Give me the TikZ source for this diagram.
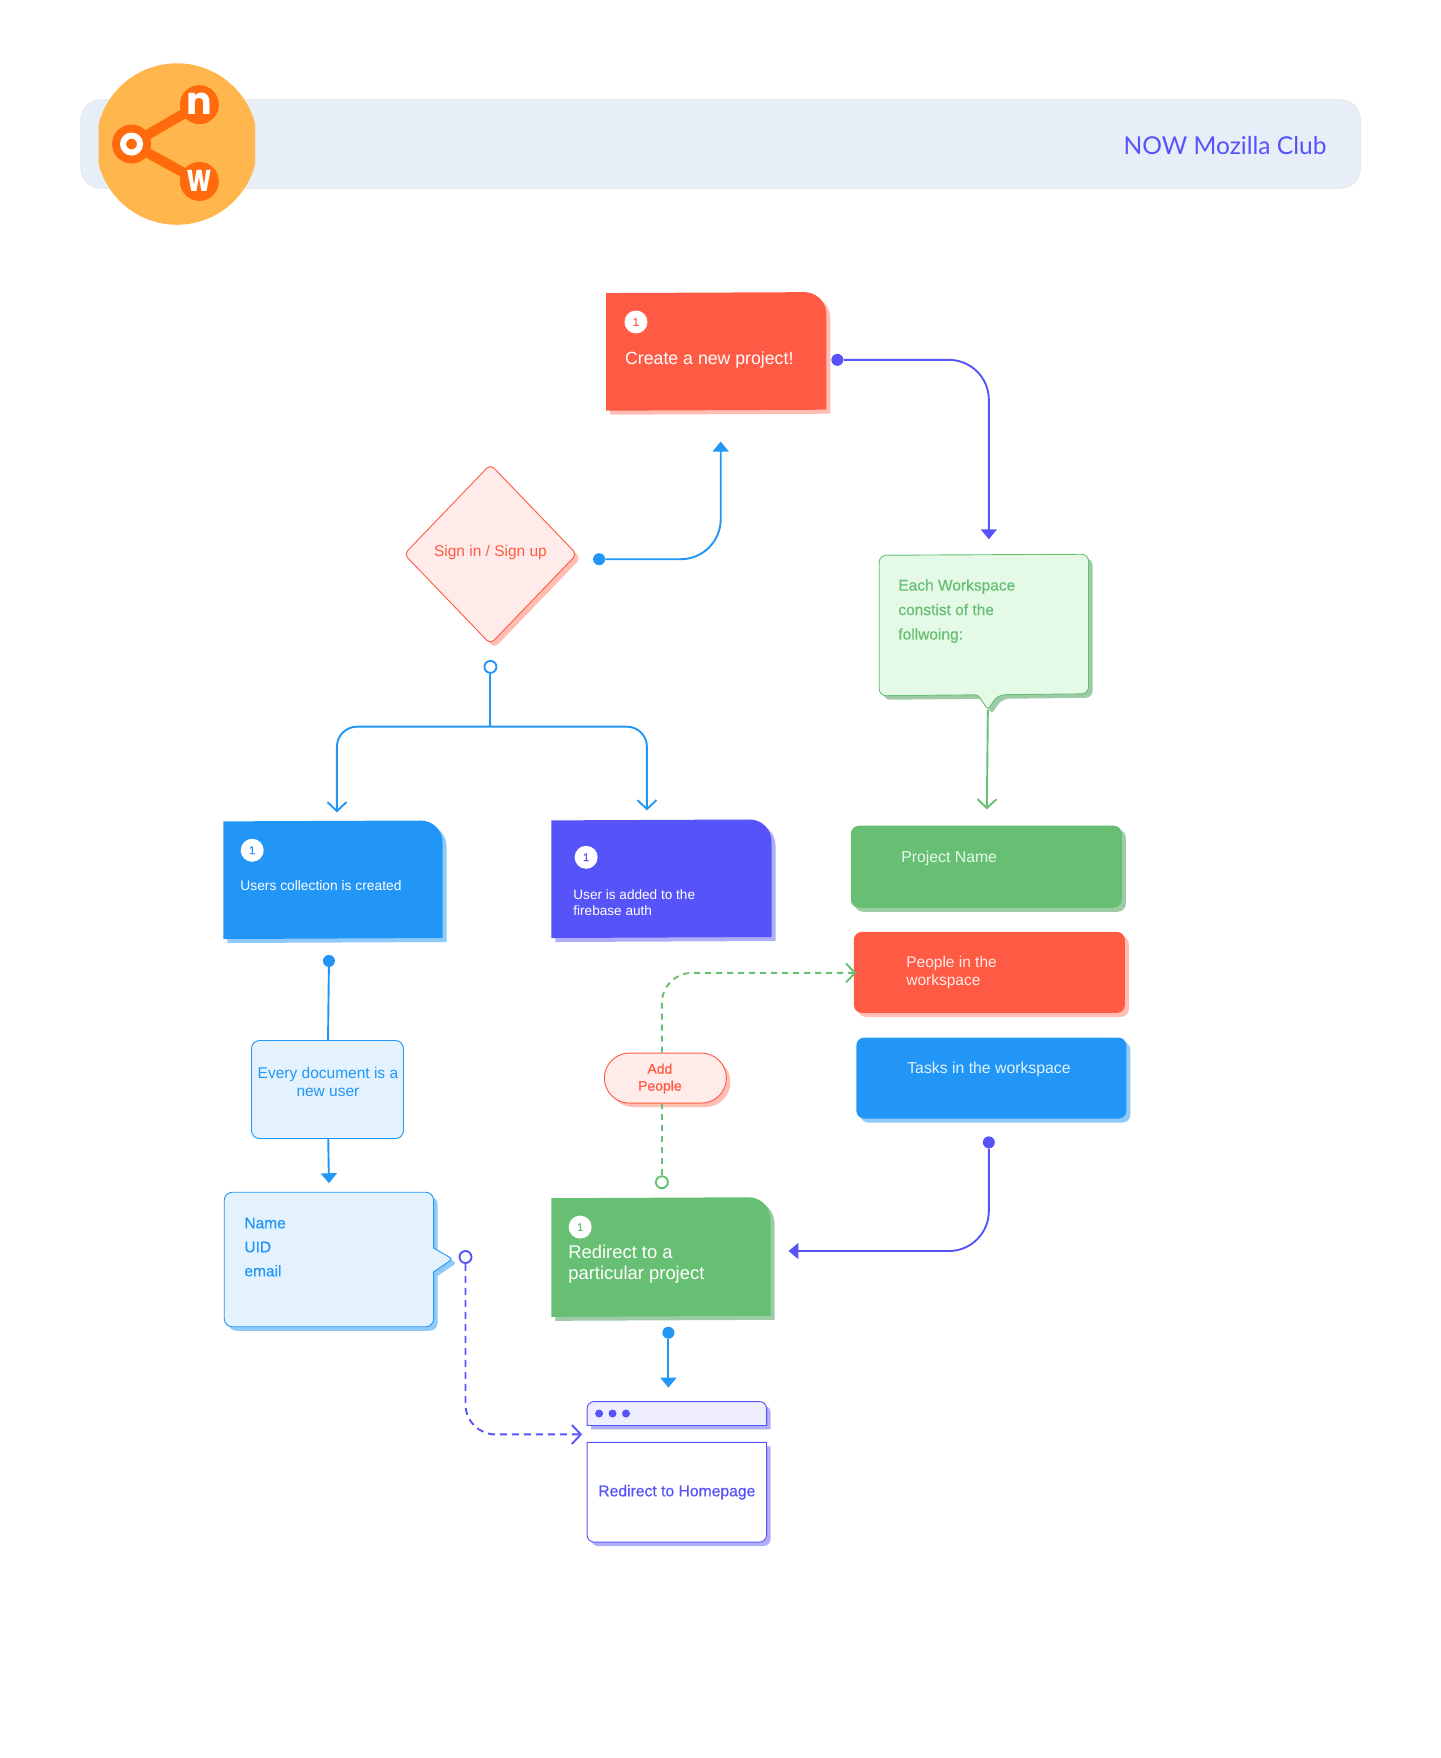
\documentclass[tikz,border=0pt]{standalone}
\usepackage{fontspec}
\setmainfont{Liberation Sans}
\newfontfamily\medfont[FakeBold=0.6]{Liberation Sans}
\newfontfamily\titlefont{Lato}
\newfontfamily\logofont{Poppins}
\usetikzlibrary{arrows.meta,shapes.geometric}
\definecolor{flowred}{HTML}{FF5A43}
\definecolor{lightred}{HTML}{FFEBE9}
\definecolor{shadered}{HTML}{FFBDB3}
\definecolor{flowblue}{HTML}{2196F7}
\definecolor{lightblue}{HTML}{E3F2FD}
\definecolor{shadeblue}{HTML}{90CAF9}
\definecolor{flowpurple}{HTML}{5654F8}
\definecolor{lightpurple}{HTML}{EEEEFE}
\definecolor{shadepurple}{HTML}{B0AEF9}
\definecolor{flowgreen}{HTML}{66BF73}
\definecolor{lightgreen}{HTML}{E4FAE7}
\definecolor{shadegreen}{HTML}{9CCBA5}
\definecolor{logoamber}{HTML}{FFB74D}
\definecolor{logoorange}{HTML}{FF6A0D}
\definecolor{barfill}{HTML}{E8EEF8}
\tikzset{
  offsetfill/.style={preaction={fill=#1,transform canvas={xshift=4pt,yshift=-4pt}}},
  flow/.style={draw=#1,line width=1.9pt},
  headtip/.style={-{Triangle[width=16pt,length=10pt]}},
  barbtip/.style={-{Straight Barb[width=19pt,length=9pt,line width=1.9pt]}},
  dot/.style={circle,fill=#1,inner sep=0pt,minimum size=12pt},
  ring/.style={circle,draw=#1,fill=white,line width=1.9pt,inner sep=0pt,minimum size=12pt},
  numbadge/.style={circle,fill=white,text=#1,inner sep=0pt,minimum size=23pt,font=\medfont\fontsize{11}{13}\selectfont},
  cardtext/.style={anchor=west,align=left,text=#1,inner sep=0pt},
  softbox/.style n args={3}{rectangle,rounded corners=8pt,fill=#1,offsetfill=#2,text=#3,inner sep=0pt},
  outline/.style={draw=#1,line width=0.9pt},
}
\begin{document}
\begin{tikzpicture}[x=0.9968pt,y=-0.9968pt]
\useasboundingbox (0,0) rectangle (1444.6,1763.6);

\draw[barfill!95!black,fill=barfill,rounded corners=20pt] (81,100) rectangle (1365,189);
\node[cardtext=flowpurple,anchor=east,font=\titlefont\fontsize{24.6}{30}\selectfont] (title) at (1331,146) {NOW Mozilla Club};

\begin{scope}
\clip (99,60) rectangle (256,230);
\fill[logoamber] (177.5,144.5) circle (81);
\end{scope}
\node[circle,fill=logoorange,minimum size=39pt,inner sep=0pt] (logoo) at (132,144.5) {};
\node[circle,fill=logoorange,minimum size=39pt,inner sep=0pt] (logon) at (200,105) {};
\node[circle,fill=logoorange,minimum size=39pt,inner sep=0pt] (logow) at (200,182) {};
\draw[logoorange,line width=10pt] (logoo.center) -- (logon.center);
\draw[logoorange,line width=10pt] (logoo.center) -- (logow.center);
\node[circle,draw=white,line width=6pt,minimum size=17pt,inner sep=0pt] (logoring) at (132,144.5) {};
\node[text=white,inner sep=0pt,font=\logofont\bfseries\fontsize{38}{38}\selectfont] (lettern) at (200,104) {n};
\node[text=white,inner sep=0pt,xscale=0.72,font=\logofont\bfseries\fontsize{38}{38}\selectfont] (letterw) at (200,181) {w};

\path[fill=flowred,offsetfill=shadered] (608,294) [rounded corners=22pt] -- (829,293) [sharp corners] -- (829,411) -- (608,412) -- cycle;
\node[numbadge=flowred] (badgecreate) at (638,323) {1};
\node[cardtext=white,font=\fontsize{17.7}{20}\selectfont] (create) at (627,361) {Create a new project!};
\node[dot=flowpurple] (dotcreate) at (840,361) {};
\coordinate (tipcreate) at (992,541);
\draw[flow=flowpurple,headtip,rounded corners=40pt] (dotcreate) -| (tipcreate);

\node[diamond,aspect=1,outline=flowred,fill=lightred,offsetfill=shadered,rounded corners=5pt,minimum width=173pt,minimum height=180pt,inner sep=0pt] (signbox) at (492,556) {};
\node[text=flowred,inner sep=0pt,font=\fontsize{15.5}{18}\selectfont] (sign) at (492,554) {Sign in / Sign up};
\node[dot=flowblue] (dotsign) at (601,561) {};
\coordinate (tipsign) at (723,443);
\draw[flow=flowblue,headtip,rounded corners=40pt] (dotsign) -| (tipsign);
\node[ring=flowblue] (ringsign) at (492,669) {};
\coordinate (forksign) at (492,729);
\coordinate (tipusers) at (338,815);
\coordinate (tipauth) at (649,813);
\draw[flow=flowblue] (ringsign) -- (forksign);
\draw[flow=flowblue,barbtip,rounded corners=20pt] (forksign) -| (tipusers);
\draw[flow=flowblue,barbtip,rounded corners=20pt] (forksign) -| (tipauth);

\path[fill=flowblue,offsetfill=shadeblue] (224,824) [rounded corners=22pt] -- (444,823) [sharp corners] -- (444,941) -- (224,942) -- cycle;
\node[numbadge=flowblue] (badgeusers) at (253,853) {1};
\node[cardtext=white,font=\fontsize{13.8}{16}\selectfont] (users) at (241,888) {Users collection is created};

\path[fill=flowpurple,offsetfill=shadepurple] (553,823) [rounded corners=22pt] -- (774,822) [sharp corners] -- (774,940) -- (553,941) -- cycle;
\node[numbadge=flowpurple] (badgeauth) at (588,860) {1};
\node[cardtext=white,font=\fontsize{13.6}{16}\selectfont] (auth) at (575,906) {User is added to the\\firebase auth};

\node[dot=flowblue] (dotusers) at (330,964) {};
\node[softbox={lightblue}{white}{flowblue},outline=flowblue,minimum width=152pt,minimum height=98pt] (docbox) at (328.5,1093) {};
\node[text=flowblue,align=center,inner sep=0pt,font=\fontsize{15.5}{18}\selectfont] (doc) at (329,1085) {Every document is a\\new user};
\coordinate (tipdoc) at (330,1187);
\draw[flow=flowblue] (dotusers) -- (docbox);
\draw[flow=flowblue,headtip] (docbox) -- (tipdoc);

\path[outline=flowblue,fill=lightblue,offsetfill=shadeblue,rounded corners=8pt] (225,1196) -- (435,1196) -- (435,1252) [sharp corners] -- (435,1252) [rounded corners=3pt] -- (454,1263) [sharp corners] -- (435,1276) [rounded corners=8pt] -- (435,1331) -- (225,1331) -- cycle;
\node[cardtext=flowblue,font=\medfont\fontsize{15.5}{24}\selectfont] (fields) at (245,1251) {Name\\UID\\email};
\node[ring=flowpurple] (ringfields) at (467,1261) {};
\coordinate (tipfields) at (584,1439);
\draw[flow=flowpurple,barbtip,dash pattern=on 7pt off 5pt,rounded corners=30pt] (ringfields) |- (tipfields);

\path[outline=flowgreen,fill=lightgreen,offsetfill=shadegreen,rounded corners=7pt] (882,557) -- (1092,556) -- (1092,696) -- (1001,697) [rounded corners=3pt] -- (991,712) -- (981,697) [rounded corners=7pt] -- (882,698) -- cycle;
\node[cardtext=flowgreen,font=\medfont\fontsize{15.5}{24.5}\selectfont] (workspace) at (901,613) {Each Workspace\\constist of the\\follwoing:};
\coordinate (startworkspace) at (991,712);
\coordinate (tipworkspace) at (990,812);
\draw[flow=flowgreen,barbtip] (startworkspace) -- (tipworkspace);

\node[softbox={flowgreen}{shadegreen}{white},minimum width=271pt,minimum height=82pt] (namebox) at (989.5,869.5) {};
\node[cardtext=lightgreen,font=\fontsize{15.8}{18}\selectfont] (name) at (904,861.5) {Project Name};
\node[softbox={flowred}{shadered}{white},minimum width=271pt,minimum height=81pt] (peoplebox) at (992.5,975.5) {};
\node[cardtext=lightred,font=\fontsize{15.5}{18}\selectfont] (people) at (909,976) {People in the\\workspace};
\node[softbox={flowblue}{shadeblue}{white},minimum width=270pt,minimum height=81pt] (tasksbox) at (994.5,1081.5) {};
\node[cardtext=lightblue,font=\fontsize{15.8}{18}\selectfont] (tasks) at (910,1073) {Tasks in the workspace};

\node[dot=flowpurple] (dottasks) at (992,1146) {};
\coordinate (tiptasks) at (791,1255);
\draw[flow=flowpurple,headtip,rounded corners=40pt] (dottasks) |- (tiptasks);

\node[rectangle,rounded corners=25pt,outline=flowred,fill=lightred,offsetfill=shadered,minimum width=122pt,minimum height=50pt,inner sep=0pt] (addbox) at (667.5,1081.5) {};
\node[text=flowred,align=center,inner sep=0pt,font=\medfont\fontsize{14}{17}\selectfont] (add) at (662,1082) {Add\\People};
\node[ring=flowgreen] (ringadd) at (664,1186) {};
\coordinate (startadd) at (664,1056);
\coordinate (tipadd) at (859,976);
\draw[flow=flowgreen,dash pattern=on 6pt off 5pt] (ringadd) -- (ringadd |- addbox.south);
\draw[flow=flowgreen,barbtip,dash pattern=on 6pt off 5pt,rounded corners=30pt] (startadd) |- (tipadd);

\path[fill=flowgreen,offsetfill=shadegreen] (553,1202) [rounded corners=22pt] -- (773,1201) [sharp corners] -- (773,1320) -- (553,1321) -- cycle;
\node[numbadge=flowgreen] (badgeredirect) at (582,1231) {1};
\node[cardtext=white,font=\fontsize{18.4}{21}\selectfont] (redirect) at (570,1268) {Redirect to a\\particular project};
\node[dot=flowblue] (dotredirect) at (670.5,1337) {};
\coordinate (tipredirect) at (670.5,1392);
\draw[flow=flowblue,headtip] (dotredirect) -- (tipredirect);

\path[outline=flowpurple,fill=lightpurple,offsetfill=shadepurple] (589,1430) [rounded corners=7pt] -- (589,1406) -- (769,1406) [sharp corners] -- (769,1430) -- cycle;
\node[dot=flowpurple,minimum size=8pt] (dotone) at (601,1418) {};
\node[dot=flowpurple,minimum size=8pt] (dottwo) at (614.5,1418) {};
\node[dot=flowpurple,minimum size=8pt] (dotthree) at (628,1418) {};
\path[outline=flowpurple,fill=white,offsetfill=shadepurple] (589,1447) -- (769,1447) [rounded corners=7pt] -- (769,1547) -- (589,1547) [sharp corners] -- cycle;
\node[text=flowpurple,inner sep=0pt,font=\medfont\fontsize{15.7}{18}\selectfont] (home) at (679,1497) {Redirect to Homepage};
\end{tikzpicture}
\end{document}
